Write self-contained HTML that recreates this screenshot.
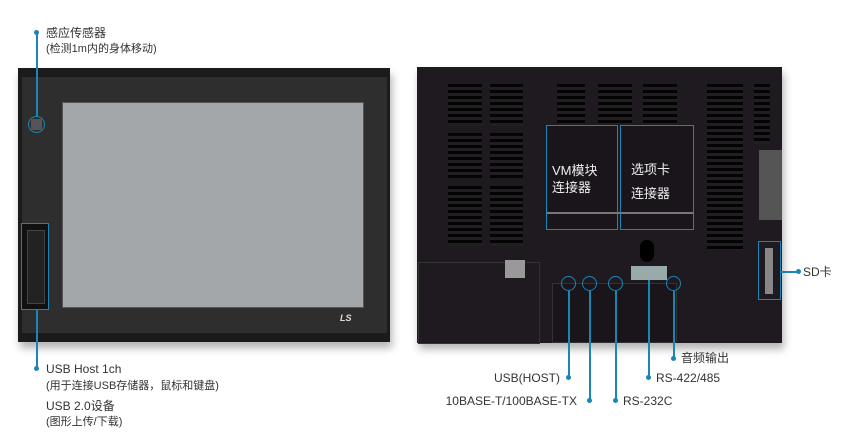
<!DOCTYPE html><html><head><meta charset="utf-8"><style>
body{margin:0;width:860px;height:438px;background:#fff;position:relative;overflow:hidden;font-family:"Liberation Sans","Noto Sans CJK SC",sans-serif;color:#333}
.a{position:absolute}
.v{position:absolute;background:repeating-linear-gradient(#050405 0 3px,#231e24 3px 6px)}
.t{position:absolute;white-space:nowrap;font-size:12px;line-height:14px}
.s{font-size:11px}
.d{position:absolute;width:5px;height:5px;border-radius:50%;background:#1a86b5}
.l{position:absolute;background:#1a86b5}
.c{position:absolute;width:13px;height:13px;border:1.5px solid #1a86b5;border-radius:50%}
</style></head><body>
<div class="a" style="left:18px;top:68px;width:372px;height:274px;background:#1b1b1b;box-shadow:2px 6px 8px rgba(0,0,0,.3)"></div>
<div class="a" style="left:22px;top:77px;width:365px;height:256px;background:#2e2e2e"></div>
<div class="a" style="left:62px;top:102px;width:300px;height:204px;background:#a4a7aa;border:1px solid #555"></div>
<div class="t" style="left:340px;top:311px;color:#ddd;font-weight:bold;font-style:italic;font-size:9px">LS</div>
<div class="a" style="left:31px;top:119px;width:11px;height:11px;background:#555;border-radius:2px"></div>
<div class="c" style="left:28px;top:116px;width:15px;height:15px"></div>
<div class="a" style="left:21px;top:223px;width:26px;height:85px;border:1px solid #1a86b5;background:#111"></div>
<div class="a" style="left:27px;top:230px;width:16px;height:72px;background:#222;border:1px solid #444"></div>
<div class="l" style="left:36px;top:33px;width:1.5px;height:83px"></div>
<div class="l" style="left:36px;top:309px;width:1.5px;height:59px"></div>
<div class="d" style="left:34px;top:30px"></div>
<div class="d" style="left:34px;top:366px"></div>
<div class="t" style="left:46px;top:26px">感应传感器</div>
<div class="t s" style="left:46px;top:42px">(检测1m内的身体移动)</div>
<div class="t" style="left:46px;top:362px">USB Host 1ch</div>
<div class="t s" style="left:46px;top:379px">(用于连接USB存储器，鼠标和键盘)</div>
<div class="t" style="left:46px;top:399px">USB 2.0设备</div>
<div class="t s" style="left:46px;top:415px">(图形上传/下载)</div>
<div class="a" style="left:417px;top:67px;width:365px;height:276px;background:#1f1a20;box-shadow:2px 6px 8px rgba(0,0,0,.3)"></div>
<div class="v" style="left:448px;top:84px;width:34px;height:42px"></div>
<div class="v" style="left:490px;top:84px;width:33px;height:42px"></div>
<div class="v" style="left:448px;top:133px;width:34px;height:45px"></div>
<div class="v" style="left:490px;top:133px;width:33px;height:45px"></div>
<div class="v" style="left:448px;top:186px;width:34px;height:60px"></div>
<div class="v" style="left:490px;top:186px;width:33px;height:60px"></div>
<div class="v" style="left:557px;top:84px;width:28px;height:40px"></div>
<div class="v" style="left:598px;top:84px;width:34px;height:40px"></div>
<div class="v" style="left:643px;top:84px;width:34px;height:40px"></div>
<div class="v" style="left:707px;top:84px;width:36px;height:166px"></div>
<div class="v" style="left:754px;top:84px;width:16px;height:60px"></div>
<div class="a" style="left:759px;top:150px;width:23px;height:70px;background:#555"></div>
<div class="a" style="left:418px;top:262px;width:120px;height:80px;border:1px solid #333"></div>
<div class="a" style="left:552px;top:283px;width:123px;height:58px;background:#19151a;border:1px solid #333"></div>
<div class="a" style="left:505px;top:260px;width:20px;height:18px;background:#999"></div>
<div class="a" style="left:631px;top:266px;width:36px;height:14px;background:#9aa"></div>
<div class="a" style="left:640px;top:240px;width:14px;height:22px;background:#000;border-radius:7px"></div>
<div class="a" style="left:546px;top:125px;width:72px;height:105px;border:1.5px solid #1a86b5;box-sizing:border-box;background:#1a151b"></div>
<div class="a" style="left:620px;top:125px;width:74px;height:105px;border:1.5px solid #1a86b5;box-sizing:border-box;background:#1a151b"></div>
<div class="a" style="left:547px;top:212px;width:146px;height:2px;background:#777"></div>
<div class="t" style="left:552px;top:162px;color:#eee;font-size:13px;line-height:17px">VM模块<br>连接器</div>
<div class="t" style="left:631px;top:158px;color:#eee;font-size:13px;line-height:24px">选项卡<br>连接器</div>
<div class="a" style="left:758px;top:241px;width:23px;height:59px;border:1.5px solid #1a86b5;box-sizing:border-box"></div>
<div class="a" style="left:765px;top:248px;width:8px;height:46px;background:#888"></div>
<div class="l" style="left:781px;top:271px;width:16px;height:1.5px"></div>
<div class="d" style="left:796px;top:269px"></div>
<div class="t" style="left:803px;top:265px">SD卡</div>
<div class="c" style="left:561px;top:276px"></div>
<div class="c" style="left:582px;top:276px"></div>
<div class="c" style="left:608px;top:276px"></div>
<div class="c" style="left:666px;top:276px"></div>
<div class="l" style="left:568px;top:291px;width:1.5px;height:86px"></div>
<div class="l" style="left:589px;top:291px;width:1.5px;height:109px"></div>
<div class="l" style="left:615px;top:291px;width:1.5px;height:109px"></div>
<div class="l" style="left:648px;top:280px;width:1.5px;height:97px"></div>
<div class="l" style="left:673px;top:291px;width:1.5px;height:67px"></div>
<div class="d" style="left:566px;top:375px"></div>
<div class="d" style="left:587px;top:398px"></div>
<div class="d" style="left:613px;top:398px"></div>
<div class="d" style="left:646px;top:375px"></div>
<div class="d" style="left:671px;top:356px"></div>
<div class="t" style="left:681px;top:351px">音频输出</div>
<div class="t" style="right:300px;top:371px">USB(HOST)</div>
<div class="t" style="left:656px;top:371px">RS-422/485</div>
<div class="t" style="right:283px;top:394px">10BASE-T/100BASE-TX</div>
<div class="t" style="left:623px;top:394px">RS-232C</div>
</body></html>
